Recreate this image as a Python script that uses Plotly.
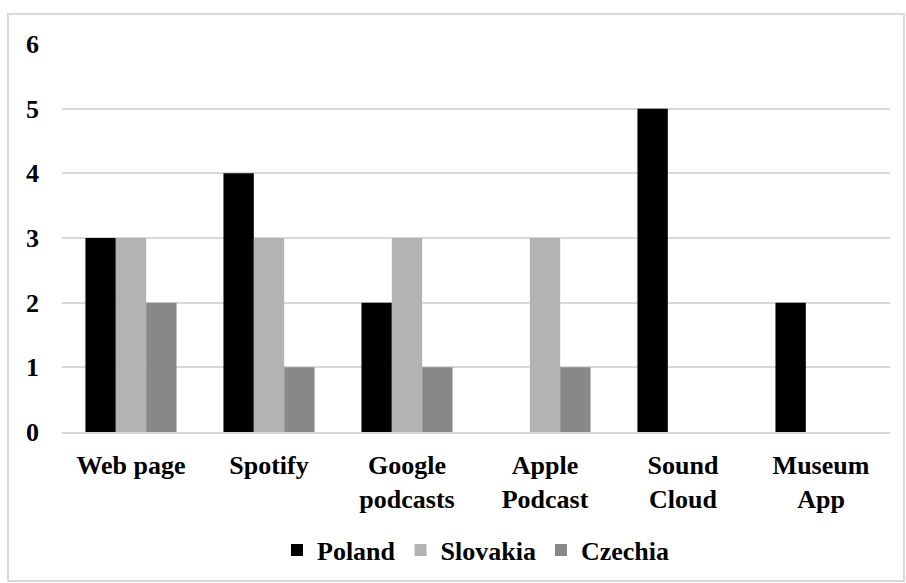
import plotly.graph_objects as go

categories = ["Web page", "Spotify", "Google<br>podcasts", "Apple<br>Podcast", "Sound<br>Cloud", "Museum<br>App"]
poland = [3, 4, 2, None, 5, 2]
slovakia = [3, 3, 3, 3, None, None]
czechia = [2, 1, 1, 1, None, None]
y_ticks = [0, 1, 2, 3, 4, 5, 6]

FAM = "Liberation Serif, Times New Roman, serif"
bold = dict(family=FAM, size=26, color="black", weight="bold")

fig = go.Figure()
fig.add_bar(name="Poland", x=categories, y=poland, marker=dict(color="#000000", line=dict(width=0)))
fig.add_bar(name="Slovakia", x=categories, y=slovakia, marker=dict(color="#b3b3b3", line=dict(width=0)))
fig.add_bar(name="Czechia", x=categories, y=czechia, marker=dict(color="#888888", line=dict(width=0)))

W, H = 906, 583
ml, mr, mt, mb = 62, 16, 44, 151
pw, ph = W - ml - mr, H - mt - mb

def px_to_paper_x(px):
    return (px - ml) / pw

def px_to_paper_y(py):
    return (H - mb - py) / ph

fig.update_layout(
    width=W, height=H,
    margin=dict(l=ml, r=mr, t=mt, b=mb, pad=0, autoexpand=False),
    paper_bgcolor="white", plot_bgcolor="white",
    font=bold,
    barmode="group", bargap=0.34, bargroupgap=0,
    showlegend=True,
    legend=dict(orientation="h", x=0.5, xanchor="center", y=px_to_paper_y(550), yanchor="middle",
                font=bold, itemwidth=30, traceorder="normal"),
    xaxis=dict(showgrid=False, showline=True, linecolor="#d9d9d9", linewidth=2, ticks="",
               tickfont=bold, ticklabelstandoff=9, automargin=False),
    yaxis=dict(range=[0, 6], tickvals=y_ticks, showgrid=True, gridcolor="#d9d9d9", gridwidth=2,
               zeroline=False, showline=False, ticks="", automargin=False,
               tickfont=bold, ticklabelstandoff=22),
    shapes=[dict(type="rect", xref="paper", yref="paper",
                 x0=px_to_paper_x(8), x1=px_to_paper_x(904),
                 y0=px_to_paper_y(581), y1=px_to_paper_y(14),
                 line=dict(color="#d9d9d9", width=2), fillcolor="rgba(0,0,0,0)", layer="below")],
)

fig.write_html("out.html")
